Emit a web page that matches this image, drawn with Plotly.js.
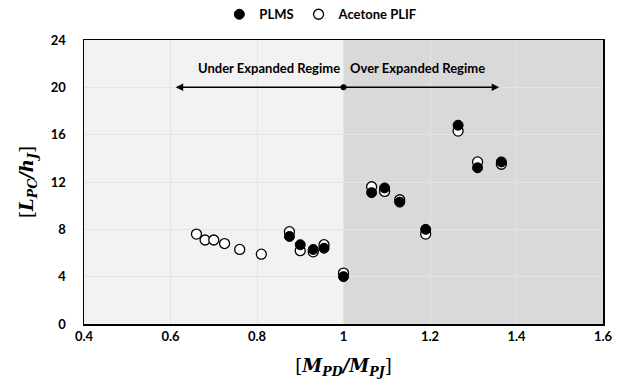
<!DOCTYPE html>
<html><head><meta charset="utf-8">
<script src="https://cdn.plot.ly/plotly-3.0.1.min.js"></script>
<style>html,body{margin:0;padding:0;background:#fff}</style>
</head><body>
<div id="chart" style="width:623px;height:387px"></div>
<script>
// Acetone PLIF (open circles)
const plifX = [0.66, 0.68, 0.70, 0.725, 0.76, 0.81, 0.875, 0.90, 0.93, 0.955, 1.0, 1.065, 1.095, 1.13, 1.19, 1.265, 1.31, 1.365];
const plifY = [7.6, 7.1, 7.1, 6.8, 6.3, 5.9, 7.8, 6.2, 6.1, 6.7, 4.3, 11.6, 11.2, 10.5, 7.6, 16.3, 13.7, 13.5];
// PLMS (filled circles)
const plmsX = [0.875, 0.90, 0.93, 0.955, 1.0, 1.065, 1.095, 1.13, 1.19, 1.265, 1.31, 1.365];
const plmsY = [7.4, 6.7, 6.3, 6.4, 4.0, 11.1, 11.5, 10.3, 8.0, 16.8, 13.2, 13.7];
// Regime boundary and arrows
const boundaryX = 1.0;
const arrowY = 20;
const arrowLeftX = 0.612;
const arrowRightX = 1.36;
const regimeLabels = ["Under Expanded Regime", "Over Expanded Regime"];
const regimeLabelX = [0.827, 1.17];
const regimeLabelY = 21.6;
const xTicks = [0.4, 0.6, 0.8, 1, 1.2, 1.4, 1.6];
const xTickText = ["0.4", "0.6", "0.8", "1", "1.2", "1.4", "1.6"];
const yTicks = [0, 4, 8, 12, 16, 20, 24];

const boldFont = {family: "Lato, 'Open Sans', sans-serif", size: 13, color: "#000", weight: 700};
const titleFont = {family: "'DejaVu Serif', serif", size: 18, color: "#000"};
const traces = [
  {x: plifX, y: plifY, type: "scatter", mode: "markers", name: "Acetone PLIF",
   legendrank: 2,
   marker: {symbol: "circle", size: 10, color: "#ffffff", line: {color: "#000", width: 1.3}}},
  {x: plmsX, y: plmsY, type: "scatter", mode: "markers", name: "PLMS",
   legendrank: 1,
   marker: {symbol: "circle", size: 10, color: "#000000", line: {color: "#000", width: 1}}},
  {x: [boundaryX], y: [arrowY], type: "scatter", mode: "markers", showlegend: false,
   hoverinfo: "skip", marker: {size: 6, color: "#000"}}
];

const layout = {
  width: 623, height: 387,
  margin: {l: 84, r: 20, t: 40, b: 63, autoexpand: false},
  paper_bgcolor: "#fff", plot_bgcolor: "#fff",
  showlegend: true,
  legend: {orientation: "h", xref: "container", x: 0.515, xanchor: "center",
    yref: "container", y: 0.963, yanchor: "middle",
    font: boldFont, itemwidth: 30, tracegroupgap: 0, bgcolor: "rgba(0,0,0,0)"},
  xaxis: {range: [0.4, 1.6], tickvals: xTicks, ticktext: xTickText, showgrid: true,
    gridcolor: "#e4e4e4", gridwidth: 1, zeroline: false, showline: true, linecolor: "#000",
    linewidth: 1.5, mirror: true, ticks: "", tickfont: boldFont,
    title: {text: "[<b><i>M</i></b><sub><b><i>PD</i></b></sub><b><i>/M</i></b><sub><b><i>PJ</i></b></sub>]",
      font: titleFont, standoff: 16}},
  yaxis: {range: [0, 24], tickvals: yTicks, showgrid: true, gridcolor: "#e4e4e4", gridwidth: 1,
    zeroline: false, showline: true, linecolor: "#000", linewidth: 1.5, mirror: true, ticks: "",
    tickfont: boldFont, ticklabelstandoff: 14,
    title: {text: "[<b><i>L</i></b><sub><b><i>PC</i></b></sub><b><i>/h</i></b><sub><b><i>J</i></b></sub>]",
      font: titleFont, standoff: 12}},
  shapes: [
    {type: "rect", xref: "x", yref: "paper", x0: 0.4, x1: boundaryX, y0: 0, y1: 1,
     fillcolor: "#f2f2f2", line: {width: 0}, layer: "below"},
    {type: "rect", xref: "x", yref: "paper", x0: boundaryX, x1: 1.6, y0: 0, y1: 1,
     fillcolor: "#d9d9d9", line: {width: 0}, layer: "below"}
  ],
  annotations: [
    {x: arrowLeftX, y: arrowY, ax: boundaryX, ay: arrowY, xref: "x", yref: "y", axref: "x", ayref: "y",
     showarrow: true, arrowhead: 2, arrowsize: 1, arrowwidth: 1.5, arrowcolor: "#000", text: ""},
    {x: arrowRightX, y: arrowY, ax: boundaryX, ay: arrowY, xref: "x", yref: "y", axref: "x", ayref: "y",
     showarrow: true, arrowhead: 2, arrowsize: 1, arrowwidth: 1.5, arrowcolor: "#000", text: ""},
    {x: regimeLabelX[0], y: regimeLabelY, xref: "x", yref: "y", showarrow: false, text: regimeLabels[0],
     font: boldFont},
    {x: regimeLabelX[1], y: regimeLabelY, xref: "x", yref: "y", showarrow: false, text: regimeLabels[1],
     font: boldFont}
  ]
};
Plotly.newPlot("chart", traces, layout, {displayModeBar: false, staticPlot: true});
</script>
</body></html>
